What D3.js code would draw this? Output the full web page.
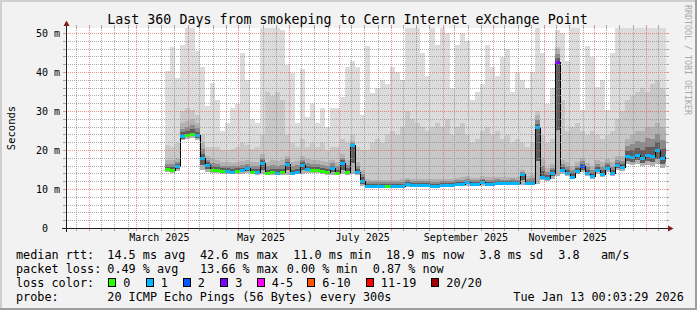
<!DOCTYPE html>
<html>
<head>
<meta charset="utf-8">
<script src="https://cdn.jsdelivr.net/npm/d3@7"></script>
<style>
  body { margin: 0; background: #f2f2f2; }
  svg { display: block; }
  text { font-family: "DejaVu Sans Mono", monospace; fill: #000; }
</style>
</head>
<body>
<script>
var width = 697,
  height = 310;

// graph window: 360 days ending at the timestamp in the legend
var startTime = new Date(2025, 0, 18, 0, 3, 29);
var endTime = new Date(2026, 0, 13, 0, 3, 29);
var firstBin = new Date(2025, 2, 18, 9, 40, 0);
var binDays = 3;

// median rtt (ms), one value per 3 day bin
var median = [
  15.2, 15.0, 15.9, 23.6, 24.0, 24.3, 23.9, 18.0, 16.4, 15.0,
  14.9, 14.8, 14.7, 14.6, 14.8, 14.9, 15.4, 14.6, 14.5, 16.8,
  14.3, 14.4, 14.3, 14.4, 16.6, 14.3, 14.6, 16.4, 15.3, 15.0,
  15.1, 14.8, 14.4, 15.5, 14.3, 16.9, 14.6, 21.3, 14.4, 12.3,
  11.0, 11.0, 11.0, 11.0, 11.0, 11.0, 11.0, 11.0, 11.3, 11.1,
  11.1, 11.1, 11.1, 11.0, 11.0, 11.1, 11.1, 11.1, 11.3, 11.4,
  11.8, 11.4, 11.4, 11.9, 11.5, 11.5, 11.6, 11.6, 11.6, 11.7,
  11.6, 14.0, 11.7, 11.7, 26.0, 13.3, 13.0, 14.2, 42.6, 15.0,
  14.2, 13.3, 14.8, 16.0, 14.3, 13.5, 14.9, 14.0, 15.5, 14.2,
  16.2, 15.8, 18.6, 18.4, 18.9, 18.2, 18.8, 18.6, 20.0, 18.0,
  18.9
];

// index into lossLabels / lossColors for every bin
var lossClass = [
  0, 0, 1, 1, 0, 0, 1, 1, 1, 0,
  0, 0, 1, 1, 0, 1, 1, 0, 1, 1,
  0, 0, 1, 0, 1, 1, 1, 1, 1, 0,
  0, 0, 0, 1, 0, 1, 0, 1, 1, 1,
  1, 1, 1, 1, 0, 1, 1, 1, 1, 1,
  1, 1, 1, 1, 1, 1, 1, 1, 1, 1,
  1, 1, 1, 1, 1, 1, 1, 1, 1, 1,
  1, 1, 1, 1, 1, 1, 1, 1, 3, 1,
  1, 1, 1, 2, 1, 1, 1, 1, 1, 1,
  1, 1, 1, 1, 1, 1, 1, 1, 1, 1,
  1
];

// smoke: fastest ping, top of dark core, top of middle band, slowest ping (ms)
var pingLow = [
  14.4, 14.3, 14.8, 22.6, 23.0, 23.2, 22.8, 15.0, 14.4, 14.3,
  14.2, 14.1, 14.0, 13.9, 14.0, 14.1, 14.3, 13.9, 13.8, 14.0,
  13.6, 13.7, 13.6, 13.7, 13.8, 13.6, 13.9, 14.0, 14.2, 14.2,
  14.3, 14.0, 13.7, 13.8, 13.6, 13.9, 13.8, 14.0, 13.7, 11.0,
  10.6, 10.6, 10.6, 10.6, 10.6, 10.6, 10.6, 10.6, 10.7, 10.6,
  10.6, 10.6, 10.6, 10.6, 10.6, 10.6, 10.7, 10.6, 10.8, 10.9,
  11.0, 10.9, 10.9, 11.0, 11.0, 11.0, 11.1, 11.1, 11.1, 11.2,
  11.1, 11.2, 11.2, 11.2, 11.5, 12.5, 12.2, 12.8, 13.5, 14.0,
  13.4, 12.6, 13.9, 14.5, 13.5, 12.8, 14.0, 13.2, 14.5, 13.4,
  15.0, 14.8, 16.5, 16.3, 16.5, 16.0, 16.3, 16.0, 16.5, 15.5,
  16.0
];

var smokeDark = [
  17.5, 17.5, 18.0, 27.0, 27.5, 28.0, 27.0, 22.0, 18.5, 18.0,
  17.5, 17.0, 17.0, 16.8, 17.0, 17.2, 17.5, 17.0, 17.0, 19.0,
  17.0, 17.5, 17.2, 17.5, 18.5, 17.0, 17.2, 18.5, 17.8, 17.5,
  17.5, 17.3, 17.0, 17.5, 17.0, 19.0, 17.5, 22.5, 17.0, 15.0,
  12.6, 12.5, 12.5, 12.5, 12.5, 12.5, 12.5, 12.6, 13.0, 12.7,
  12.7, 12.7, 12.7, 12.6, 12.6, 12.7, 12.8, 12.7, 13.0, 13.1,
  13.4, 13.0, 13.0, 13.4, 13.2, 13.2, 13.3, 13.2, 13.2, 13.3,
  13.2, 15.0, 13.4, 13.6, 29.0, 18.0, 15.5, 16.5, 46.0, 17.5,
  17.0, 16.0, 17.0, 18.0, 16.8, 16.0, 17.5, 17.0, 17.8, 17.0,
  18.5, 18.5, 23.0, 24.0, 25.0, 25.0, 26.0, 26.0, 27.0, 26.0,
  25.0
];

var smokeMid = [
  21.5, 21.0, 22.0, 30.0, 31.0, 30.5, 29.0, 24.0, 21.0, 21.0,
  21.0, 20.0, 20.0, 20.5, 21.0, 22.0, 21.5, 20.5, 21.0, 24.0,
  35.0, 34.0, 35.0, 33.0, 24.0, 22.0, 21.0, 23.0, 21.0, 22.0,
  21.0, 22.0, 20.0, 21.0, 21.0, 23.0, 22.0, 24.0, 21.0, 20.0,
  20.0, 22.0, 23.0, 22.0, 24.0, 25.0, 24.0, 26.0, 30.0, 28.0,
  27.0, 26.0, 25.0, 26.0, 27.0, 26.0, 28.0, 24.0, 26.0, 27.0,
  24.0, 22.0, 23.0, 25.0, 26.0, 24.0, 25.0, 23.0, 24.0, 22.0,
  23.0, 22.0, 21.0, 22.0, 30.0, 24.0, 22.0, 23.0, 46.5, 33.0,
  25.0, 26.0, 27.0, 25.0, 24.0, 25.0, 24.0, 23.0, 24.0, 25.0,
  28.0, 30.0, 33.0, 34.0, 35.0, 36.0, 35.0, 37.0, 38.0, 36.0,
  35.0
];

var smokeHigh = [
  40.5, 46.5, 38.5, 47.0, 52.0, 52.0, 45.5, 41.4, 31.3, 37.3,
  33.0, 25.0, 27.0, 31.0, 32.0, 45.0, 38.0, 28.0, 27.0, 52.0,
  52.0, 52.0, 52.0, 51.0, 42.0, 39.8, 27.0, 40.8, 28.5, 32.0,
  27.0, 31.0, 26.0, 30.8, 30.8, 33.8, 41.5, 43.0, 41.5, 29.0,
  46.7, 34.7, 36.0, 38.0, 37.0, 41.5, 40.0, 38.2, 52.0, 52.0,
  52.0, 45.0, 39.0, 52.0, 47.0, 52.0, 50.0, 36.0, 47.0, 50.0,
  48.0, 33.0, 35.0, 37.0, 47.0, 41.5, 39.0, 44.0, 46.0, 35.0,
  40.0, 38.0, 36.0, 40.0, 52.0, 45.0, 32.0, 36.0, 51.0, 50.0,
  43.0, 52.0, 52.0, 30.5, 46.7, 44.0, 36.4, 38.0, 30.5, 45.0,
  52.0, 52.0, 52.0, 52.0, 52.0, 52.0, 52.0, 52.0, 52.0, 52.0,
  52.0
];

var yTicks = [0, 10, 20, 30, 40, 50];
var labelMonths = [new Date(2025, 2, 1), new Date(2025, 4, 1), new Date(2025, 6, 1), new Date(2025, 8, 1), new Date(2025, 10, 1)];

var lossLabels = ["0", "1", "2", "3", "4-5", "6-10", "11-19", "20/20"];
var lossColors = ["#26ff00", "#00b8ff", "#0059ff", "#7e00ff", "#ff00ff", "#ff5500", "#ff0000", "#a00000"];

var title = "Last 360 Days from smokeping to Cern Internet eXchange Point";
var rttStats = ["14.5 ms avg", "42.6 ms max", "11.0 ms min", "18.9 ms now", "3.8 ms sd", "3.8   am/s"];
var lossStats = ["0.49 % avg", "13.66 % max", "0.00 % min", "0.87 % now"];
var probeText = "20 ICMP Echo Pings (56 Bytes) every 300s";
var stampText = "Tue Jan 13 00:03:29 2026";

var gridColor = "rgba(143,143,143,0.75)",
  mgridColor = "rgba(222,79,79,0.6)",
  arrowColor = "#801f1f",
  axisColor = "#1f1f1f";

var svg = d3.select("body").append("svg")
  .attr("width", width)
  .attr("height", height);

// background and 3d frame
svg.append("rect").attr("width", width).attr("height", height).attr("fill", "#f2f2f2");
svg.append("rect").attr("x", 0).attr("y", 0).attr("width", width).attr("height", 2).attr("fill", "#cfcfcf");
svg.append("rect").attr("x", 0).attr("y", 0).attr("width", 2).attr("height", height).attr("fill", "#cfcfcf");
svg.append("rect").attr("x", 0).attr("y", height - 2).attr("width", width).attr("height", 2).attr("fill", "#9e9e9e");
svg.append("rect").attr("x", width - 2).attr("y", 0).attr("width", 2).attr("height", height).attr("fill", "#9e9e9e");

var x = d3.scaleTime().domain([startTime, endTime]).range([66, 666]);
var y = d3.scaleLinear().domain([0, 51.28]).range([228.5, 28.5]);

svg.append("rect")
  .attr("x", 66).attr("y", 28)
  .attr("width", 600).attr("height", 200)
  .attr("fill", "#fff");

svg.append("clipPath").attr("id", "canvas")
  .append("rect").attr("x", 66).attr("y", 28).attr("width", 600).attr("height", 200.5);

var bins = median.map(function (m, i) {
  return {
    t: d3.timeHour.offset(firstBin, i * binDays * 24),
    med: m, loss: lossClass[i], lo: pingLow[i],
    dk: smokeDark[i], mid: smokeMid[i], hi: smokeHigh[i]
  };
});
var steps = bins.concat([Object.assign({}, bins[bins.length - 1], { t: endTime })]);

var plot = svg.append("g").attr("clip-path", "url(#canvas)");

function band(lower, upper, color) {
  plot.append("path")
    .datum(steps)
    .attr("d", d3.area()
      .curve(d3.curveStepAfter)
      .x(function (d) { return x(d.t); })
      .y0(function (d) { return y(lower(d)); })
      .y1(function (d) { return y(upper(d)); }))
    .attr("fill", color)
    .attr("shape-rendering", "crispEdges");
}

band(function (d) { return d.lo; }, function (d) { return d.hi; }, "#dcdcdc");
band(function (d) { return d.lo; }, function (d) { return d.mid; }, "#c8c8c8");
band(function (d) { return d.lo; }, function (d) { return d.dk; }, "#b2b2b2");
band(function (d) { return d.med - (d.med - d.lo) * 0.6; }, function (d) { return d.med + (d.dk - d.med) * 0.6; }, "#8c8c8c");
band(function (d) { return d.med - (d.med - d.lo) * 0.6; }, function (d) { return d.med + (d.dk - d.med) * 0.3; }, "#5e5e5e");

// grid
var grid = svg.append("g").attr("shape-rendering", "crispEdges");

var minorDays = [];
var majorDays = [];
d3.timeMonth.range(new Date(2025, 0, 1), new Date(2026, 1, 1)).forEach(function (m) {
  majorDays.push(m);
  [8, 16, 24].forEach(function (d) { minorDays.push(new Date(m.getFullYear(), m.getMonth(), d)); });
});
function inside(d) { return d >= startTime && d <= endTime; }

function vline(t, color) {
  var px = Math.round(x(t)) + 0.5;
  grid.append("line").attr("x1", px).attr("x2", px).attr("y1", 28).attr("y2", 228)
    .attr("stroke", color).attr("stroke-dasharray", "1,1");
  grid.append("line").attr("x1", px).attr("x2", px).attr("y1", 228).attr("y2", 231).attr("stroke", color);
  grid.append("line").attr("x1", px).attr("x2", px).attr("y1", 25).attr("y2", 28).attr("stroke", color);
}
function hline(v, color) {
  var py = Math.round(y(v) - 0.5) + 0.5;
  grid.append("line").attr("x1", 66).attr("x2", 666).attr("y1", py).attr("y2", py)
    .attr("stroke", color).attr("stroke-dasharray", "1,1");
  grid.append("line").attr("x1", 63).attr("x2", 66).attr("y1", py).attr("y2", py).attr("stroke", color);
  grid.append("line").attr("x1", 666).attr("x2", 669).attr("y1", py).attr("y2", py).attr("stroke", color);
}

minorDays.filter(inside).forEach(function (t) { vline(t, gridColor); });
majorDays.filter(inside).forEach(function (t) { vline(t, mgridColor); });
d3.range(2, 51, 2).filter(function (v) { return v % 10 !== 0; }).forEach(function (v) { hline(v, gridColor); });
yTicks.slice(1).forEach(function (v) { hline(v, mgridColor); });

// median line with loss colour
var medianLine = d3.line()
  .curve(d3.curveStepAfter)
  .x(function (d) { return x(d.t); })
  .y(function (d) { return Math.round(y(d.med)) + 0.5; });

plot.append("path")
  .datum(steps)
  .attr("d", medianLine)
  .attr("fill", "none")
  .attr("stroke", "#000")
  .attr("shape-rendering", "crispEdges");

plot.selectAll(".loss")
  .data(bins)
  .enter()
  .append("rect")
  .attr("class", "loss")
  .attr("x", function (d, i) { return x(d.t); })
  .attr("width", function (d, i) { return x(steps[i + 1].t) - x(d.t); })
  .attr("y", function (d) { return Math.round(y(d.med)) - 1; })
  .attr("height", 3)
  .attr("fill", function (d) { return lossColors[d.loss]; })
  .attr("shape-rendering", "crispEdges");

// axes and arrows
svg.append("line").attr("x1", 62).attr("x2", 670).attr("y1", 228.5).attr("y2", 228.5).attr("stroke", axisColor);
svg.append("line").attr("x1", 66.5).attr("x2", 66.5).attr("y1", 232).attr("y2", 24).attr("stroke", axisColor);
svg.append("path").attr("d", "M668,225.5L668,231.5L673.5,228.5Z").attr("fill", arrowColor);
svg.append("path").attr("d", "M63.5,26L69.5,26L66.5,20.5Z").attr("fill", arrowColor);

svg.selectAll(".ylab")
  .data(yTicks)
  .enter()
  .append("text")
  .attr("class", "ylab")
  .attr("x", function (d) { return d === 0 ? 48 : 60; })
  .attr("y", function (d) { return y(d) + 3.5; })
  .attr("text-anchor", "end")
  .style("font-size", "10px")
  .text(function (d) { return d === 0 ? "0" : d + " m"; });

var monthFormat = d3.timeFormat("%B %Y");
svg.selectAll(".xlab")
  .data(labelMonths)
  .enter()
  .append("text")
  .attr("class", "xlab")
  .attr("x", function (d) { return x(d3.timeDay.offset(d, 14)); })
  .attr("y", 241)
  .attr("text-anchor", "middle")
  .style("font-size", "10px")
  .text(function (d) { return monthFormat(d); });

svg.append("text")
  .attr("x", 347.5).attr("y", 23.5)
  .attr("text-anchor", "middle")
  .style("font-size", "13.3px")
  .text(title);

svg.append("text")
  .attr("transform", "translate(14.5,128) rotate(-90)")
  .attr("text-anchor", "middle")
  .style("font-size", "10.5px")
  .text("Seconds");

svg.append("text")
  .attr("transform", "translate(684.5,60) rotate(90)")
  .attr("text-anchor", "middle")
  .style("font-size", "8.3px")
  .style("fill", "#a9a9a9")
  .text("RRDTOOL / TOBI OETIKER");

// legend
var legend = svg.append("g").style("font-size", "11.8px").style("white-space", "pre");

function legendText(str, px, py) {
  legend.append("text").attr("x", px).attr("y", py).attr("xml:space", "preserve").text(str);
}

var rttCols = [107.3, 200, 293.3, 386, 479.3, 558.3];
var lossCols = [107.3, 200, 286.7, 372.7];
var boxCols = [108.5, 146, 183, 220.5, 257, 307.5, 366, 431.5];

legendText("median rtt:", 16, 258.5);
rttStats.forEach(function (s, i) { legendText(s, rttCols[i], 258.5); });
legendText("packet loss:", 16, 272.5);
lossStats.forEach(function (s, i) { legendText(s, lossCols[i], 272.5); });
legendText("loss color:", 16, 286.5);
lossLabels.forEach(function (s, i) {
  legend.append("rect")
    .attr("x", boxCols[i]).attr("y", 278.5)
    .attr("width", 7).attr("height", 8)
    .attr("fill", lossColors[i])
    .attr("stroke", "#000")
    .attr("shape-rendering", "crispEdges");
  legendText(s, boxCols[i] + 14.8, 286.5);
});
legendText("probe:", 16, 300.5);
legendText(probeText, 107.3, 300.5);
legendText(stampText, 513.3, 300.5);
</script>
</body>
</html>
